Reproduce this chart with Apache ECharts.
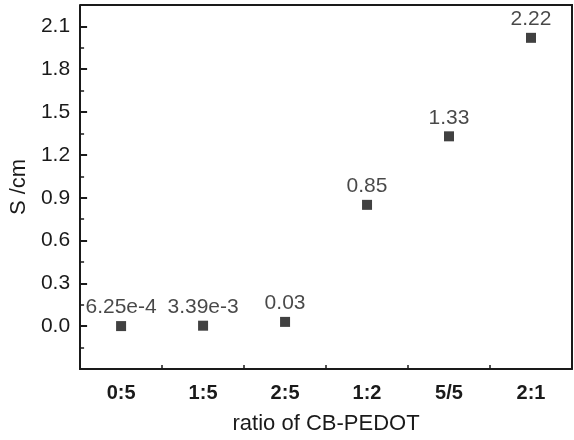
<!DOCTYPE html>
<html>
<head>
    <meta charset="utf-8">
    <script src="https://cdn.jsdelivr.net/npm/echarts@6/dist/echarts.min.js"></script>
</head>
<body style="margin: 0; background: #fff">
<div id="container" style="width: 574px; height: 440px"></div>
<script type="text/javascript">
    // categories on x
    var ratios = ['0:5', '1:5', '2:5', '1:2', '5/5', '2:1'];
    // plotted conductivity (S/cm)
    var conductivity = [0.000625, 0.00339, 0.03, 0.85, 1.33, 2.02];
    // text shown above each point
    var pointLabels = ['6.25e-4', '3.39e-3', '0.03', '0.85', '1.33', '2.22'];

    var myChart = echarts.init(document.getElementById('container'));
    var font = 'Liberation Sans, Arial, sans-serif';
    var ink = '#1a1a1a';

    var option = {
        animation: false,
        grid: { left: 70, right: 2, top: 5, bottom: 66 },
        xAxis: [{
            type: 'category',
            data: ratios,
            name: 'ratio of CB-PEDOT',
            nameLocation: 'middle',
            nameGap: 44,
            nameTextStyle: { fontFamily: font, fontSize: 22, color: ink },
            axisLine: { onZero: false, lineStyle: { color: ink, width: 2 } },
            axisTick: { alignWithLabel: true, inside: true, length: 7, lineStyle: { color: ink, width: 2 } },
            axisLabel: { fontFamily: font, fontSize: 20, fontWeight: 'bold', color: ink, margin: 14 },
            splitLine: { show: false }
        }, {
            // minor ticks at category boundaries
            type: 'category',
            data: ratios,
            position: 'bottom',
            axisLine: { show: true, onZero: false, lineStyle: { color: ink, width: 2 } },
            axisTick: { show: true, inside: true, length: 4, lineStyle: { color: ink, width: 1.5 } },
            axisLabel: { show: false }
        }],
        yAxis: {
            type: 'value',
            min: -0.3,
            max: 2.25,
            interval: 0.3,
            name: 'S /cm',
            nameLocation: 'middle',
            nameGap: 48,
            nameTextStyle: { fontFamily: font, fontSize: 22, color: ink },
            axisLine: { show: true, lineStyle: { color: ink, width: 2 } },
            axisTick: { show: true, inside: true, length: 7, lineStyle: { color: ink, width: 2 } },
            minorTick: { show: true, splitNumber: 2, length: 4, lineStyle: { color: ink, width: 1.5 } },
            axisLabel: {
                fontFamily: font, fontSize: 21, color: ink, margin: 10,
                showMaxLabel: false,
                formatter: function (v) { return v < 0 ? '' : v.toFixed(1); }
            },
            splitLine: { show: false }
        },
        series: [{
            type: 'scatter',
            symbol: 'rect',
            symbolSize: 10,
            itemStyle: { color: '#111' },
            data: conductivity.map(function (v, i) { return [i, v]; }),
            label: {
                show: true,
                position: 'top',
                distance: 3,
                fontFamily: font,
                fontSize: 21,
                color: ink,
                formatter: function (p) { return pointLabels[p.dataIndex]; }
            }
        }]
    };
    myChart.setOption(option);

    // close the frame on top and right
    var g = myChart.getModel().getComponent('grid').coordinateSystem.getRect();
    myChart.setOption({
        graphic: [{
            type: 'polyline',
            shape: { points: [[g.x, g.y], [g.x + g.width, g.y], [g.x + g.width, g.y + g.height]] },
            style: { stroke: ink, lineWidth: 2, fill: null }
        }]
    });
</script>
</body>
</html>
